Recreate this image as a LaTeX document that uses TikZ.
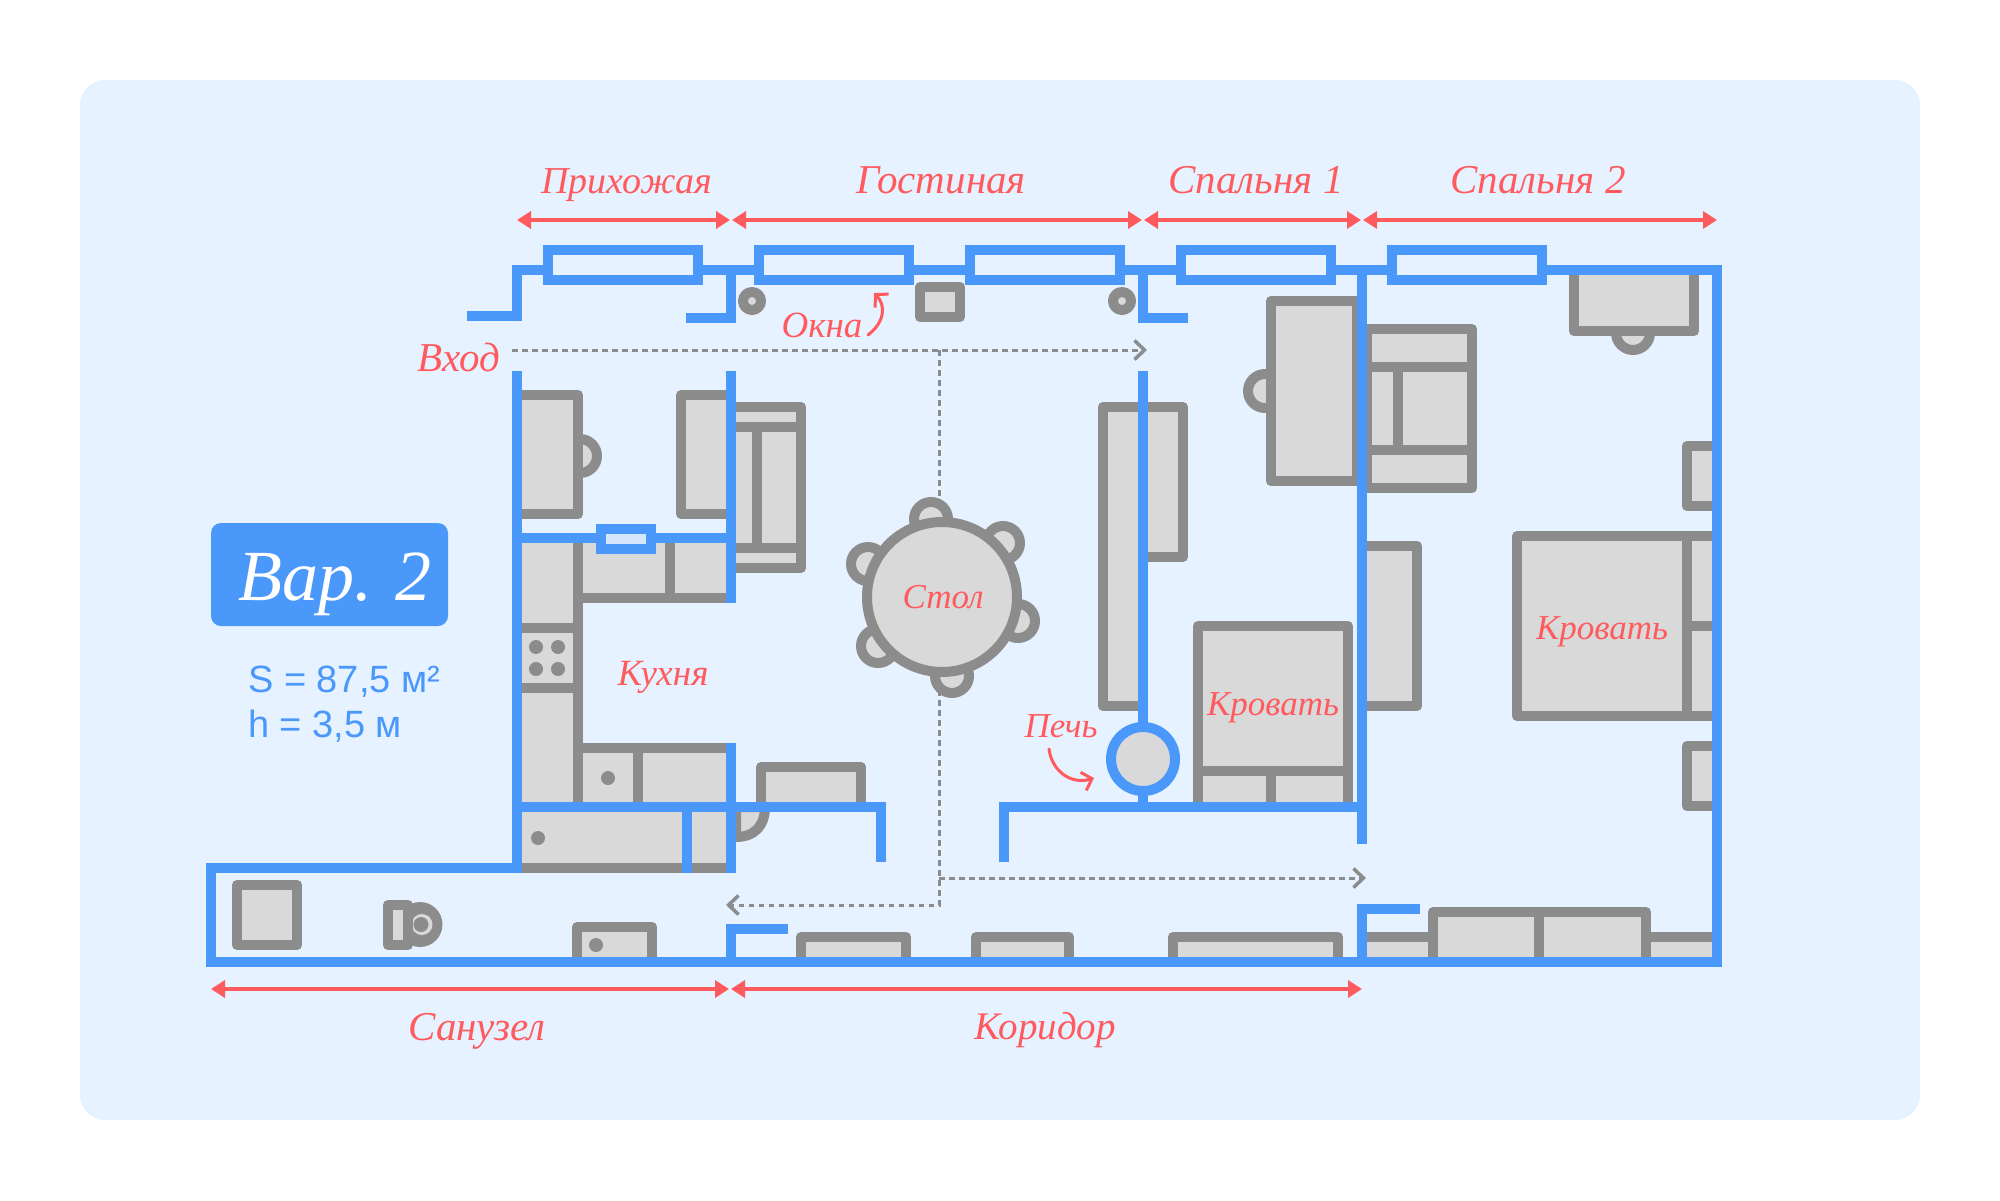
\documentclass[tikz,border=0pt]{standalone}
\usepackage{fontspec}
\setmainfont{Liberation Serif}
\newfontfamily\infofont{Liberation Sans}
\usetikzlibrary{arrows.meta}
\definecolor{planbg}{HTML}{E6F2FF}
\definecolor{planblue}{HTML}{4A98FA}
\definecolor{planred}{HTML}{FF5B5F}
\definecolor{plangray}{HTML}{8C8C8C}
\definecolor{planfill}{HTML}{D9D9D9}
\definecolor{planglass}{HTML}{D5E6FC}
\begin{document}
\begin{tikzpicture}[x=1pt,y=-1pt]

\tikzstyle{wall}   = [draw=planblue, line width=10pt]
\tikzstyle{window} = [draw=planblue, line width=10pt, fill=planbg]
\tikzstyle{furn}   = [draw=plangray, fill=planfill, line width=10pt, line join=round]
\tikzstyle{seam}   = [draw=plangray, line width=10pt]
\tikzstyle{knob}   = [fill=plangray]
\tikzstyle{span}   = [draw=planred, line width=3.5pt, {Triangle[length=14pt,width=17pt]}-{Triangle[length=14pt,width=17pt]}]
\tikzstyle{route}  = [draw=plangray, line width=3pt, dash pattern=on 5.5pt off 4.5pt, -{Straight Barb[length=10pt,width=19pt,line width=3.5pt]}]
\tikzstyle{hint}   = [draw=planred, line width=3pt, line cap=round, -{Straight Barb[length=9pt,width=19pt,line width=3pt]}]
\tikzstyle{lbl}    = [text=planred, anchor=base, inner sep=0pt, font=\fontsize{41}{48}\itshape\selectfont]
\tikzstyle{lblsm}  = [lbl, font=\fontsize{35}{42}\itshape\selectfont]
\tikzstyle{info}   = [text=planblue, anchor=base west, inner sep=0pt, font=\fontsize{38}{44}\infofont\selectfont]

\fill [white] (0,0) rectangle (2000,1200);
\fill [planbg, rounded corners=25pt] (80,80) rectangle (1920,1120);

% routes
\coordinate (EntryA) at (512,350);
\coordinate (EntryB) at (1147,350);
\coordinate (RouteT) at (939,350);
\coordinate (RouteM) at (939,878);
\coordinate (RouteR) at (1366,878);
\coordinate (RouteB) at (939,905);
\coordinate (RouteL) at (726,905);
\draw [route] (EntryA) -- (EntryB);
\draw [route] (RouteM) -- (RouteR);
\draw [route] (RouteT) -- (RouteB) -- (RouteL);

% chairs
\draw [furn] (931,519) circle (17);
\draw [furn] (1003,543) circle (17);
\draw [furn] (1018,621) circle (17);
\draw [furn] (952,676) circle (17);
\draw [furn] (878,646) circle (17);
\draw [furn] (868,564) circle (17);
\draw [furn] (942,597) circle (75);
\draw [furn] (580,456) circle (17);
\draw [furn] (1265,391) circle (17);
\draw [furn] (1633,333) circle (17);
\draw [furn] (736,807) -- (765,807) .. controls (765,825) and (755,837) .. (736,837) -- cycle;

% kitchen
\draw [furn] (517,395) rectangle (578,514);
\draw [furn] (681,395) rectangle (731,514);
\draw [furn] (731,407) rectangle (801,568);
\draw [seam] (731,427) -- (801,427);
\draw [seam] (731,548) -- (801,548);
\draw [seam] (757,427) -- (757,548);
\draw [furn] (517,538) rectangle (578,807);
\draw [furn] (578,538) rectangle (731,598);
\draw [seam] (670,538) -- (670,598);
\draw [seam] (517,628) -- (578,628);
\draw [seam] (517,688) -- (578,688);
\fill [knob] (536,647) circle (7);
\fill [knob] (558,647) circle (7);
\fill [knob] (536,669) circle (7);
\fill [knob] (558,669) circle (7);
\draw [furn] (578,748) rectangle (731,807);
\draw [seam] (638,748) -- (638,807);
\fill [knob] (608,778) circle (7);
\draw [furn] (517,807) rectangle (731,868);
\fill [knob] (538,838) circle (7);
\draw [furn] (761,767) rectangle (861,807);

% rooms on the right
\draw [furn] (1103,407) rectangle (1143,706);
\draw [furn] (1143,407) rectangle (1183,557);
\draw [furn] (1271,301) rectangle (1357,481);
\draw [furn] (1367,329) rectangle (1472,488);
\draw [seam] (1367,367) -- (1472,367);
\draw [seam] (1367,450) -- (1472,450);
\draw [seam] (1398,367) -- (1398,450);
\draw [furn] (1574,270) rectangle (1694,331);
\draw [furn] (1687,446) rectangle (1717,506);
\draw [furn] (1198,626) rectangle (1348,807);
\draw [seam] (1198,771) -- (1348,771);
\draw [seam] (1271,771) -- (1271,807);
\draw [furn] (1362,546) rectangle (1417,706);
\draw [furn] (1517,536) rectangle (1717,716);
\draw [seam] (1687,536) -- (1687,716);
\draw [seam] (1687,626) -- (1717,626);
\draw [furn] (1687,746) rectangle (1717,806);

% bottom row
\draw [furn] (237,885) rectangle (297,945);
\fill [knob] (420,924.5) circle (22.5);
\fill [planfill] (422,924.5) circle (10.5);
\fill [knob] (421,924.5) circle (7.5);
\draw [furn] (388,905) rectangle (408,945);
\draw [furn] (577,927) rectangle (652,962);
\fill [knob] (596,945) circle (7);
\draw [furn] (801,937) rectangle (906,962);
\draw [furn] (976,937) rectangle (1069,962);
\draw [furn] (1173,937) rectangle (1338,962);
\draw [furn] (1362,937) rectangle (1717,962);
\draw [furn] (1433,912) rectangle (1646,962);
\draw [seam] (1539,912) -- (1539,962);

% columns at the windows
\draw [furn] (752,301) circle (9);
\draw [furn] (1122,301) circle (9);
\draw [furn] (920,287) rectangle (960,317);

% walls
\draw [wall] (467,316) -- (517,316) -- (517,270) -- (1717,270) -- (1717,962) -- (211,962) -- (211,868) -- (517,868) -- (517,371);
\draw [wall] (686,318) -- (731,318) -- (731,270);
\draw [wall] (1188,318) -- (1143,318) -- (1143,270);
\draw [wall] (1362,270) -- (1362,844);
\draw [wall] (731,371) -- (731,603);
\draw [wall] (731,743) -- (731,873);
\draw [wall] (517,538) -- (731,538);
\draw [wall] (687,807) -- (687,873);
\draw [wall] (517,807) -- (881,807) -- (881,862);
\draw [wall] (1004,862) -- (1004,807) -- (1362,807);
\draw [wall] (1143,371) -- (1143,807);
\draw [wall] (788,929) -- (731,929) -- (731,962);
\draw [wall] (1420,909) -- (1362,909) -- (1362,962);
\draw [window] (548,250) rectangle (698,280);
\draw [window] (759,250) rectangle (909,280);
\draw [window] (970,250) rectangle (1120,280);
\draw [window] (1181,250) rectangle (1331,280);
\draw [window] (1392,250) rectangle (1542,280);
\draw [window, fill=planglass] (601,529) rectangle (651,549);
\draw [wall, fill=planfill] (1143,759) circle (32);

% spans
\coordinate (SpanA) at (517,220);
\coordinate (SpanB) at (730,220);
\coordinate (SpanC) at (732,220);
\coordinate (SpanD) at (1142,220);
\coordinate (SpanE) at (1144,220);
\coordinate (SpanF) at (1361,220);
\coordinate (SpanG) at (1363,220);
\coordinate (SpanH) at (1717,220);
\coordinate (SpanI) at (211,989);
\coordinate (SpanJ) at (729,989);
\coordinate (SpanK) at (731,989);
\coordinate (SpanL) at (1362,989);
\draw [span] (SpanA) -- (SpanB);
\draw [span] (SpanC) -- (SpanD);
\draw [span] (SpanE) -- (SpanF);
\draw [span] (SpanG) -- (SpanH);
\draw [span] (SpanI) -- (SpanJ);
\draw [span] (SpanK) -- (SpanL);

% hints
\coordinate (WinA) at (868,335);
\coordinate (WinB) at (874,293);
\coordinate (OvenA) at (1049,749);
\coordinate (OvenB) at (1094,778);
\draw [hint] (WinA) .. controls (885,322) and (886,305) .. (WinB);
\draw [hint] (OvenA) .. controls (1052,772) and (1072,785) .. (OvenB);

% labels
\node [lbl, font=\fontsize{38}{44}\itshape\selectfont] (Hall) at (627,193) {Прихожая};
\node [lbl] (Living) at (941,193)  {Гостиная};
\node [lbl] (Bed1)   at (1256,193) {Спальня 1};
\node [lbl] (Bed2)   at (1538,193) {Спальня 2};
\node [lbl] (Bath)   at (477,1040) {Санузел};
\node [lbl, font=\fontsize{39}{44}\itshape\selectfont] (Corr) at (1045,1039) {Коридор};
\node [lbl] (Entry) at (459,371) {Вход};
\node [lblsm, font=\fontsize{37}{44}\itshape\selectfont] (Panes) at (822,337) {Окна};
\node [lblsm, font=\fontsize{37}{44}\itshape\selectfont] (Kitch) at (663,685) {Кухня};
\node [lblsm] (Table) at (943,608) {Стол};
\node [lblsm] (Oven)  at (1061,737) {Печь};
\node [lblsm] (BedA)  at (1273,715) {Кровать};
\node [lblsm] (BedB)  at (1602,639) {Кровать};

% badge
\node [fill=planblue, rounded corners=10pt, minimum width=237pt, minimum height=103pt, inner sep=0pt] (Badge) at (329.5,574.5) {};
\node [lbl, text=white, font=\fontsize{72}{80}\itshape\selectfont] (BadgeTxt) at (335,600) {Вар. 2};
\node [info] (Area)   at (248,692) {S = 87,5 м²};
\node [info] (Height) at (248,737) {h = 3,5 м};
\end{tikzpicture}
\end{document}
